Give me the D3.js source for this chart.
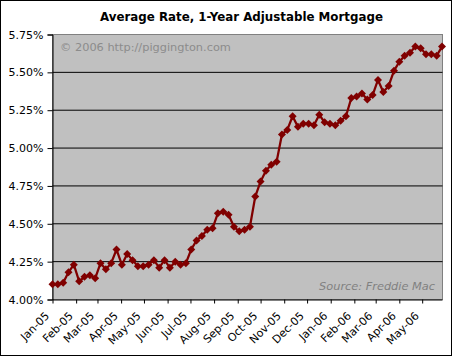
<!DOCTYPE html>
<html>
<head>
<meta charset="utf-8">
<script src="https://cdn.jsdelivr.net/npm/d3@7"></script>
<style>
  html, body { margin: 0; padding: 0; background: #fff; }
  svg { display: block; }
</style>
</head>
<body>
<svg id="chart" width="453" height="357"></svg>
<script>
// ---- data ----
const chartTitle = "Average Rate, 1-Year Adjustable Mortgage";
const copyrightText = "\u00a9 2006 http://piggington.com";
const sourceText = "Source: Freddie Mac";

const dates = [
  "2005-01-06","2005-01-13","2005-01-20","2005-01-27",
  "2005-02-03","2005-02-10","2005-02-17","2005-02-24",
  "2005-03-03","2005-03-10","2005-03-17","2005-03-24","2005-03-31",
  "2005-04-07","2005-04-14","2005-04-21","2005-04-28",
  "2005-05-05","2005-05-12","2005-05-19","2005-05-26",
  "2005-06-02","2005-06-09","2005-06-16","2005-06-23","2005-06-30",
  "2005-07-07","2005-07-14","2005-07-21","2005-07-28",
  "2005-08-04","2005-08-11","2005-08-18","2005-08-25",
  "2005-09-01","2005-09-08","2005-09-15","2005-09-22","2005-09-29",
  "2005-10-06","2005-10-13","2005-10-20","2005-10-27",
  "2005-11-03","2005-11-10","2005-11-17","2005-11-24",
  "2005-12-01","2005-12-08","2005-12-15","2005-12-22","2005-12-29",
  "2006-01-05","2006-01-12","2006-01-19","2006-01-26",
  "2006-02-02","2006-02-09","2006-02-16","2006-02-23",
  "2006-03-02","2006-03-09","2006-03-16","2006-03-23","2006-03-30",
  "2006-04-06","2006-04-13","2006-04-20","2006-04-27",
  "2006-05-04","2006-05-11","2006-05-18","2006-05-25",
  "2006-06-01"
];

const rates = [
  4.10, 4.10, 4.11, 4.18,
  4.23, 4.12, 4.15, 4.16,
  4.14, 4.24, 4.20, 4.24, 4.33,
  4.23, 4.30, 4.26, 4.22,
  4.22, 4.23, 4.26, 4.21,
  4.26, 4.21, 4.25, 4.23, 4.24,
  4.33, 4.39, 4.42, 4.46,
  4.47, 4.57, 4.58, 4.56,
  4.48, 4.45, 4.46, 4.48, 4.68,
  4.78, 4.85, 4.89, 4.91,
  5.09, 5.12, 5.21, 5.14,
  5.16, 5.16, 5.15, 5.22, 5.17,
  5.16, 5.15, 5.18, 5.21,
  5.33, 5.34, 5.36, 5.32,
  5.35, 5.45, 5.37, 5.41, 5.51,
  5.57, 5.61, 5.63, 5.67,
  5.66, 5.62, 5.62, 5.61,
  5.67
];

const yTicks = [4.00, 4.25, 4.50, 4.75, 5.00, 5.25, 5.50, 5.75];
const xTickDates = [
  "2005-01-06","2005-02-06","2005-03-06","2005-04-06","2005-05-06","2005-06-06",
  "2005-07-06","2005-08-06","2005-09-06","2005-10-06","2005-11-06","2005-12-06",
  "2006-01-06","2006-02-06","2006-03-06","2006-04-06","2006-05-06"
];
const xTickLabels = [
  "Jan-05","Feb-05","Mar-05","Apr-05","May-05","Jun-05","Jul-05","Aug-05","Sep-05",
  "Oct-05","Nov-05","Dec-05","Jan-06","Feb-06","Mar-06","Apr-06","May-06"
];

// ---- drawing ----
const parse = d3.utcParse("%Y-%m-%d");
const data = dates.map((d, i) => ({ date: parse(d), value: rates[i] }));

const svg = d3.select("#chart");
const plot = { left: 52.5, right: 442.5, top: 34.5, bottom: 299.5 };
const FONT = "'DejaVu Sans', Verdana, sans-serif";

function fitWidth(sel, base, target) {
  const w = sel.node().getComputedTextLength();
  sel.attr("font-size", base * target / w);
}

// outer border
svg.append("rect")
  .attr("x", 0.5).attr("y", 0.5)
  .attr("width", 451).attr("height", 355)
  .attr("fill", "#fff").attr("stroke", "#000").attr("stroke-width", 1);

const x = d3.scaleUtc()
  .domain([parse(dates[0]), parse(dates[dates.length - 1])])
  .range([plot.left, plot.right - 0.5]);
const y = d3.scaleLinear()
  .domain([4.00, 5.75])
  .range([plot.bottom, plot.top]);

// plot background
svg.append("rect")
  .attr("x", plot.left).attr("y", plot.top)
  .attr("width", plot.right - plot.left).attr("height", plot.bottom - plot.top)
  .attr("fill", "#C0C0C0").attr("stroke", "#808080").attr("stroke-width", 1);

// gridlines
svg.append("g")
  .selectAll("line")
  .data(yTicks.filter(t => t > 4.0 && t < 5.75))
  .join("line")
  .attr("x1", plot.left).attr("x2", plot.right)
  .attr("y1", d => y(d)).attr("y2", d => y(d))
  .attr("stroke", "#000").attr("stroke-width", 1);

// title
const title = svg.append("text")
  .attr("x", 241.5).attr("y", 21)
  .attr("text-anchor", "middle")
  .attr("font-family", FONT)
  .attr("font-weight", "bold")
  .attr("font-size", 12)
  .attr("fill", "#000")
  .text(chartTitle);
fitWidth(title, 12, 283);

// watermark
const wm = svg.append("text")
  .attr("x", 60).attr("y", 51)
  .attr("font-family", FONT)
  .attr("font-size", 11)
  .attr("fill", "#8c8c8c")
  .text(copyrightText);
fitWidth(wm, 11, 171);

const src = svg.append("text")
  .attr("x", 435).attr("y", 290)
  .attr("text-anchor", "end")
  .attr("font-family", FONT)
  .attr("font-style", "italic")
  .attr("font-size", 11)
  .attr("fill", "#808080")
  .text(sourceText);
fitWidth(src, 11, 116);

// y axis
const yAxis = d3.axisLeft(y)
  .tickValues(yTicks)
  .tickFormat(d => d3.format(".2f")(d) + "%")
  .tickSize(5)
  .tickPadding(4);
const gy = svg.append("g")
  .attr("transform", `translate(${plot.left},0)`)
  .call(yAxis);
gy.select(".domain").attr("stroke", "#000");
gy.selectAll("text")
  .attr("font-family", FONT).attr("font-size", 11).attr("fill", "#000");

// x axis
const xAxis = d3.axisBottom(x)
  .tickValues(xTickDates.map(parse))
  .tickFormat((d, i) => xTickLabels[i])
  .tickSizeInner(4)
  .tickSizeOuter(0);
const gx = svg.append("g")
  .attr("transform", `translate(0,${plot.bottom})`)
  .call(xAxis);
gx.select(".domain").attr("stroke", "#000");
gx.selectAll(".tick text")
  .attr("font-family", FONT).attr("font-size", 11).attr("fill", "#000")
  .attr("text-anchor", "end")
  .attr("y", 0).attr("dy", 0)
  .attr("transform", "translate(-3,17) rotate(-45)");

// line
const line = d3.line()
  .x(d => x(d.date))
  .y(d => y(d.value));
svg.append("path")
  .datum(data)
  .attr("d", line)
  .attr("fill", "none")
  .attr("stroke", "#800000")
  .attr("stroke-width", 2.25)
  .attr("stroke-linejoin", "round");

// diamond markers
const diamondType = {
  draw(ctx, size) {
    const r = Math.sqrt(size) / 2;
    ctx.moveTo(0, -r);
    ctx.lineTo(r, 0);
    ctx.lineTo(0, r);
    ctx.lineTo(-r, 0);
    ctx.closePath();
  }
};
svg.append("g")
  .selectAll("path")
  .data(data)
  .join("path")
  .attr("transform", d => `translate(${x(d.date)},${y(d.value)})`)
  .attr("d", d3.symbol().type(diamondType).size(64))
  .attr("fill", "#800000");
</script>
</body>
</html>
